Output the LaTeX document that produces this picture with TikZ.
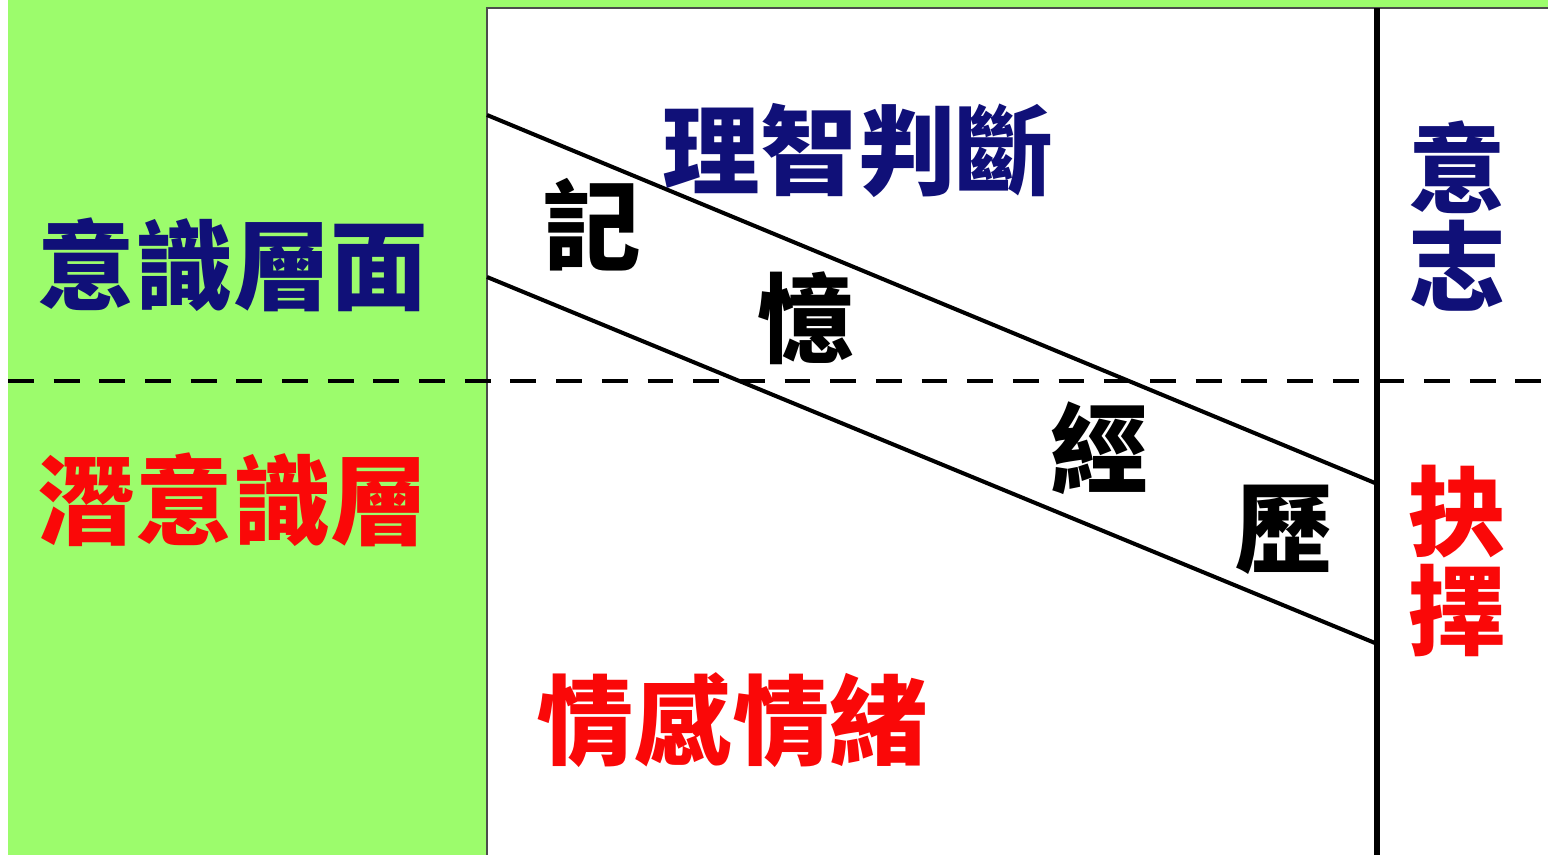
\documentclass[tikz,border=0pt]{standalone}
\usepackage{fontspec}
\usepackage{xcolor}
\usepackage{tikz}
\newfontfamily\cjk{Noto Sans CJK TC}
\definecolor{leafgreen}{RGB}{156,252,108}
\definecolor{mindblue}{RGB}{16,16,120}
\definecolor{heartred}{RGB}{250,8,8}
\tikzset{
  layer/.style={font=\cjk\bfseries\fontsize{55.5}{56}\selectfont, inner sep=0pt, align=center},
  band/.style={line width=2.3pt},
  divide/.style={line width=2.8pt, dash pattern=on 14.7pt off 11.3pt},
}

\begin{document}
\begin{tikzpicture}[x=0.02cm, y=-0.02cm]
  \useasboundingbox (0,0) rectangle (1548,855);

  % panels
  \fill[leafgreen] (8,0) rectangle (1548,855);
  \fill[white] (487,8) rectangle (1548,855);
  \draw[black!70, line width=0.8pt] (487,855) -- (487,8) -- (1548,8);

  % memory band
  \coordinate (ul) at (487,115);
  \coordinate (ur) at (1375,483);
  \coordinate (ll) at (487,277);
  \coordinate (lr) at (1375,643);
  \draw[band] (ul) -- (ur);
  \draw[band] (ll) -- (lr);

  % dividers
  \coordinate (vt) at (1377,8);
  \coordinate (vb) at (1377,855);
  \draw[line width=3.4pt] (vt) -- (vb);
  \coordinate (dl) at (8,381);
  \coordinate (dr) at (1548,381);
  \draw[divide] (dl) -- (dr);

  % labels
  \node[layer, text=mindblue] (conscious) at (233,265) {意識層面};
  \node[layer, text=heartred] (subconscious) at (233,500) {潛意識層};
  \node[layer, text=mindblue] (reason) at (858,150) {理智判斷};
  \node[layer, text=heartred] (emotion) at (732,720) {情感情緒};

  \foreach \ch/\x/\y [count=\i] in {記/592/225, 憶/806/318, 經/1099/448, 歷/1284/530}{
    \node[layer] (mem\i) at (\x,\y) {\ch};
  }

  \node[layer, text=mindblue] (will) at (1457,216) {意\\志};
  \node[layer, text=heartred] (choice) at (1457,561) {抉\\擇};
\end{tikzpicture}
\end{document}
